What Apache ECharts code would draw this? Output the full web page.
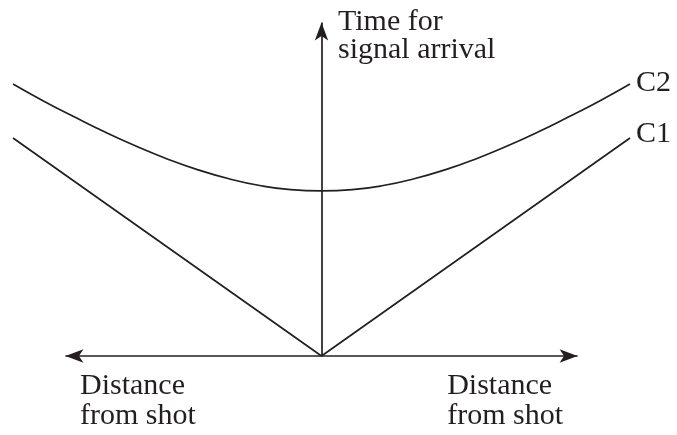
<!DOCTYPE html>
<html>
<head>
<meta charset="utf-8">
<script src="https://cdn.jsdelivr.net/npm/echarts@6/dist/echarts.min.js"></script>
<style>html,body{margin:0;padding:0;background:#fff}#c{width:677px;height:435px}</style>
</head>
<body>
<div id="c"></div>
<script>
// Distance from shot (arbitrary units, shot at 0)
var c1Distance = [-10, 0, 10];
var c1Times = [10, 0, 10];
var c2Distance = [-10, -9, -8, -7, -6, -5, -4, -3, -2, -1, 0, 1, 2, 3, 4, 5, 6, 7, 8, 9, 10];
var c2Times = [12.48, 11.69, 10.96, 10.26, 9.62, 9.04, 8.54, 8.13, 7.82, 7.63, 7.57, 7.63, 7.82, 8.13, 8.54, 9.04, 9.62, 10.26, 10.96, 11.69, 12.48];
var seriesNames = ['C1', 'C2'];
var axisTitleY = 'Time for\nsignal arrival';
var axisTitleX = 'Distance\nfrom shot';
var axisArrowX = 8.3;
var axisArrowY = 15.3;

var ink = '#231f20';
var serif = '"Liberation Serif", "Times New Roman", serif';

function pairs(xs, ys) { return xs.map(function (x, i) { return [x, ys[i]]; }); }

var chart = echarts.init(document.getElementById('c'));
chart.setOption({
  animation: false,
  backgroundColor: '#fff',
  grid: { left: 13, right: 47, top: 7.2, bottom: 79 },
  xAxis: { type: 'value', min: -10, max: 10, show: false },
  yAxis: { type: 'value', min: 0, max: 16, show: false },
  graphic: [
    { type: 'text', left: 338, top: 7, style: { text: axisTitleY, font: '30px ' + serif, lineHeight: 28, fill: ink } },
    { type: 'text', left: 80, top: 371, style: { text: axisTitleX, font: '30px ' + serif, lineHeight: 30, fill: ink } },
    { type: 'text', right: 114, top: 371, style: { text: axisTitleX, font: '30px ' + serif, lineHeight: 30, fill: ink, align: 'right' } }
  ],
  series: [
    {
      name: seriesNames[0], type: 'line', data: pairs(c1Distance, c1Times),
      symbol: 'none', smooth: false, silent: true,
      lineStyle: { color: ink, width: 1.7 },
      endLabel: { show: true, formatter: seriesNames[0], color: ink, fontFamily: serif, fontSize: 30, distance: 6, offset: [0, -4] },
      markLine: {
        silent: true, animation: false, label: { show: false },
        lineStyle: { color: ink, width: 1.7, type: 'solid' },
        symbolSize: [10, 18],
        data: [
          [{ coord: [-axisArrowX, 0], symbol: 'arrow' }, { coord: [axisArrowX, 0], symbol: 'arrow' }],
          [{ coord: [0, 0], symbol: 'none' }, { coord: [0, axisArrowY], symbol: 'arrow' }]
        ]
      }
    },
    {
      name: seriesNames[1], type: 'line', data: pairs(c2Distance, c2Times),
      symbol: 'none', smooth: true, silent: true,
      lineStyle: { color: ink, width: 1.7 },
      endLabel: { show: true, formatter: seriesNames[1], color: ink, fontFamily: serif, fontSize: 30, distance: 6, offset: [0, -1] }
    }
  ]
});
</script>
</body>
</html>
